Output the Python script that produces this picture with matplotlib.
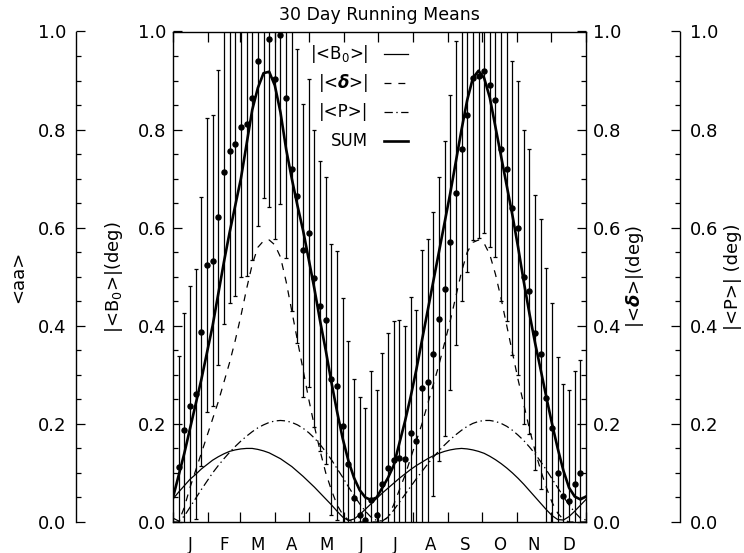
import numpy as np
import matplotlib.pyplot as plt
from matplotlib.ticker import MultipleLocator, FormatStrFormatter
from matplotlib.lines import Line2D

plt.rcParams['font.family'] = 'DejaVu Sans'
plt.rcParams['lines.scale_dashes'] = False

# day of year grid for the model curves
curve_days = list(range(0, 366, 5)) + [365]
curve_days = sorted(set(curve_days))

# |<B0>| (thin solid)
b0 = [0.047, 0.061, 0.074, 0.087, 0.097, 0.108, 0.117, 0.126, 0.133, 0.139,
      0.144, 0.147, 0.149, 0.150, 0.150, 0.148, 0.145, 0.141, 0.135, 0.129,
      0.121, 0.113, 0.103, 0.093, 0.082, 0.071, 0.059, 0.047, 0.035, 0.022,
      0.010, 0.003, 0.006, 0.015, 0.026, 0.037, 0.048, 0.059, 0.069, 0.079,
      0.089, 0.098, 0.107, 0.115, 0.122, 0.129, 0.135, 0.140, 0.144, 0.147,
      0.149, 0.150, 0.149, 0.147, 0.144, 0.140, 0.134, 0.127, 0.119, 0.110,
      0.100, 0.089, 0.077, 0.064, 0.051, 0.038, 0.025, 0.013, 0.005, 0.004,
      0.011, 0.022, 0.034, 0.046]

# |<delta>| (dashed)
delta = [0.0, 0.0, 0.03, 0.07, 0.105, 0.14, 0.175, 0.21, 0.245, 0.285,
         0.325, 0.37, 0.42, 0.475, 0.525, 0.56, 0.573, 0.575, 0.565, 0.54,
         0.49, 0.43, 0.37, 0.31, 0.25, 0.195, 0.145, 0.10, 0.065, 0.035,
         0.015, 0.004, 0.0, 0.0, 0.0, 0.0, 0.0, 0.0, 0.01, 0.035,
         0.065, 0.095, 0.13, 0.165, 0.20, 0.24, 0.28, 0.32, 0.365, 0.41,
         0.46, 0.51, 0.55, 0.57, 0.575, 0.568, 0.545, 0.505, 0.455, 0.40,
         0.345, 0.29, 0.24, 0.19, 0.145, 0.105, 0.07, 0.04, 0.018, 0.005,
         0.0, 0.0, 0.0, 0.0]

# |<P>| (dash-dot)
pang = [0.008, 0.002, 0.012, 0.03, 0.048, 0.066, 0.083, 0.10, 0.115, 0.129,
        0.142, 0.154, 0.165, 0.175, 0.184, 0.192, 0.198, 0.203, 0.206, 0.207,
        0.206, 0.203, 0.198, 0.191, 0.182, 0.171, 0.158, 0.143, 0.127, 0.109,
        0.091, 0.072, 0.054, 0.037, 0.022, 0.01, 0.003, 0.002, 0.01, 0.024,
        0.04, 0.056, 0.072, 0.088, 0.103, 0.118, 0.132, 0.145, 0.157, 0.168,
        0.178, 0.187, 0.195, 0.201, 0.205, 0.207, 0.207, 0.205, 0.201, 0.195,
        0.187, 0.177, 0.166, 0.153, 0.139, 0.123, 0.106, 0.088, 0.07, 0.052,
        0.035, 0.02, 0.008, 0.004]

# SUM (thick solid)
total = [0.05, 0.095, 0.14, 0.19, 0.24, 0.29, 0.345, 0.40, 0.465, 0.53,
         0.59, 0.645, 0.70, 0.77, 0.84, 0.885, 0.915, 0.918, 0.89, 0.835,
         0.76, 0.70, 0.645, 0.594, 0.535, 0.475, 0.41, 0.35, 0.285, 0.225,
         0.17, 0.125, 0.09, 0.065, 0.05, 0.045, 0.05, 0.07, 0.09, 0.115,
         0.16, 0.205, 0.255, 0.31, 0.37, 0.43, 0.49, 0.55, 0.61, 0.67,
         0.735, 0.80, 0.86, 0.905, 0.92, 0.905, 0.865, 0.805, 0.745, 0.685,
         0.625, 0.56, 0.49, 0.425, 0.365, 0.31, 0.254, 0.20, 0.15, 0.105,
         0.07, 0.052, 0.046, 0.052]

# 30 day running means of <aa>, every 5 days
point_days = list(range(5, 361, 5))
point_vals = [0.113, 0.187, 0.236, 0.261, 0.388, 0.524, 0.533, 0.621, 0.713, 0.756,
              0.771, 0.806, 0.812, 0.865, 0.939, 1.01, 0.985, 0.903, 0.993, 0.865,
              0.719, 0.665, 0.554, 0.59, 0.497, 0.441, 0.411, 0.291, 0.278, 0.196,
              0.119, 0.048, 0.014, 0.005, 0.045, 0.015, 0.078, 0.11, 0.126, 0.131,
              0.129, 0.181, 0.165, 0.274, 0.286, 0.342, 0.414, 0.476, 0.57, 0.67,
              0.76, 0.83, 0.905, 0.91, 0.92, 0.89, 0.86, 0.76, 0.72, 0.64,
              0.60, 0.50, 0.47, 0.386, 0.342, 0.252, 0.191, 0.10, 0.054, 0.043,
              0.077, 0.10]
point_errs = [0.226, 0.24, 0.245, 0.255, 0.274, 0.30, 0.296, 0.30, 0.31, 0.31,
              0.31, 0.306, 0.31, 0.33, 0.335, 0.35, 0.342, 0.326, 0.344, 0.327,
              0.289, 0.30, 0.299, 0.314, 0.303, 0.296, 0.292, 0.276, 0.274, 0.26,
              0.25, 0.243, 0.24, 0.228, 0.263, 0.255, 0.267, 0.276, 0.283, 0.28,
              0.271, 0.277, 0.267, 0.28, 0.29, 0.29, 0.29, 0.30, 0.30, 0.31,
              0.31, 0.32, 0.33, 0.33, 0.33, 0.33, 0.32, 0.31, 0.31, 0.30,
              0.30, 0.30, 0.29, 0.28, 0.275, 0.265, 0.256, 0.237, 0.227, 0.226,
              0.23, 0.23]

month_starts = [0, 31, 59, 90, 120, 151, 181, 212, 243, 273, 304, 334, 365]
month_labels = ['J', 'F', 'M', 'A', 'M', 'J', 'J', 'A', 'S', 'O', 'N', 'D']

W, H = 744, 553
fig = plt.figure(figsize=(W / 100, H / 100), dpi=100)


def fx(px):
    return px / W


def fy(py):
    return 1 - py / H


left, right, top, bottom = 173, 586, 31.5, 522
ax_h = (bottom - top) / H
ax = fig.add_axes([fx(left), fy(bottom), (right - left) / W, ax_h])

lw_axis = 1.0
fs = 13

# data points with error bars
ax.errorbar(point_days, point_vals, yerr=point_errs, fmt='o', color='k',
            ms=3.6, elinewidth=0.9, capsize=1.6, capthick=0.9)

# model curves
ax.plot(curve_days, b0, color='k', lw=0.9)
ax.plot(curve_days, delta, color='k', lw=0.9, ls=(0, (5, 5)))
ax.plot(curve_days, pang, color='k', lw=0.9, ls=(0, (6, 2.5, 1, 2.5)))
ax.plot(curve_days, total, color='k', lw=1.9)

ax.set_xlim(0, 365)
ax.set_ylim(0, 1)
ax.set_xticks(month_starts)
ax.set_xticklabels([])
mid = [(month_starts[i] + month_starts[i + 1]) / 2 for i in range(12)]
ax.set_xticks(mid, minor=True)
ax.set_xticklabels(month_labels, minor=True, fontsize=12)
ax.tick_params(axis='x', which='major', direction='in', top=True, bottom=True,
               length=7, width=0.9)
ax.tick_params(axis='x', which='minor', length=0, pad=10)

ax.yaxis.set_major_locator(MultipleLocator(0.2))
ax.yaxis.set_minor_locator(MultipleLocator(0.05))
ax.yaxis.set_major_formatter(FormatStrFormatter('%.1f'))
ax.tick_params(axis='y', which='both', direction='in', left=True, right=True,
               labelleft=True, labelright=True, labelsize=fs, pad=5, width=0.9)
ax.tick_params(axis='y', which='major', length=6.5)
ax.tick_params(axis='y', which='minor', length=3.5)
for s in ax.spines.values():
    s.set_linewidth(lw_axis)

ax.set_title('30 Day Running Means', fontsize=12.5, pad=8)


def side_axis(xpx, side):
    a = fig.add_axes([fx(xpx), fy(bottom), 0.0001, ax_h])
    a.patch.set_visible(False)
    for s in ['top', 'bottom', 'left', 'right']:
        a.spines[s].set_visible(s == side)
    a.spines[side].set_linewidth(lw_axis)
    a.set_xticks([])
    a.set_ylim(0, 1)
    a.yaxis.set_major_locator(MultipleLocator(0.2))
    a.yaxis.set_minor_locator(MultipleLocator(0.05))
    a.yaxis.set_major_formatter(FormatStrFormatter('%.1f'))
    if side == 'right':
        a.yaxis.tick_right()
    a.tick_params(axis='y', which='both', direction='in', labelsize=fs,
                  pad=7, width=0.9)
    a.tick_params(axis='y', which='major', length=6.5)
    a.tick_params(axis='y', which='minor', length=3.5)
    return a


side_axis(76, 'left')
side_axis(680, 'right')

yc = fy((top + bottom) / 2)
fig.text(fx(18), yc, '<aa>', rotation=90, ha='center', va='center', fontsize=fs)
fig.text(fx(114), yc, r'|<B$_0$>|(deg)', rotation=90, ha='center', va='center', fontsize=fs)
fig.text(fx(635), yc, r'|<$\mathbfit{\delta}$>|(deg)', rotation=90, ha='center',
         va='center', fontsize=fs)
fig.text(fx(733), yc, '|<P>| (deg)', rotation=90, ha='center', va='center', fontsize=fs)

# legend
leg_labels = [r'|<B$_0$>|', r'|<$\mathbfit{\delta}$>|', '|<P>|', 'SUM']
leg_styles = [dict(lw=0.9, ls='-'), dict(lw=0.9, ls=(0, (5, 5))),
              dict(lw=0.9, ls=(0, (6, 2.5, 1, 2.5))), dict(lw=1.9, ls='-')]
leg_rows = [54, 83, 112, 141]
for lab, sty, ry in zip(leg_labels, leg_styles, leg_rows):
    fig.text(fx(368), fy(ry), lab, ha='right', va='center', fontsize=12)
    fig.add_artist(Line2D([fx(384), fx(408)], [fy(ry), fy(ry)], color='k',
                          transform=fig.transFigure, **sty))

fig.savefig('out.png', dpi=100)
